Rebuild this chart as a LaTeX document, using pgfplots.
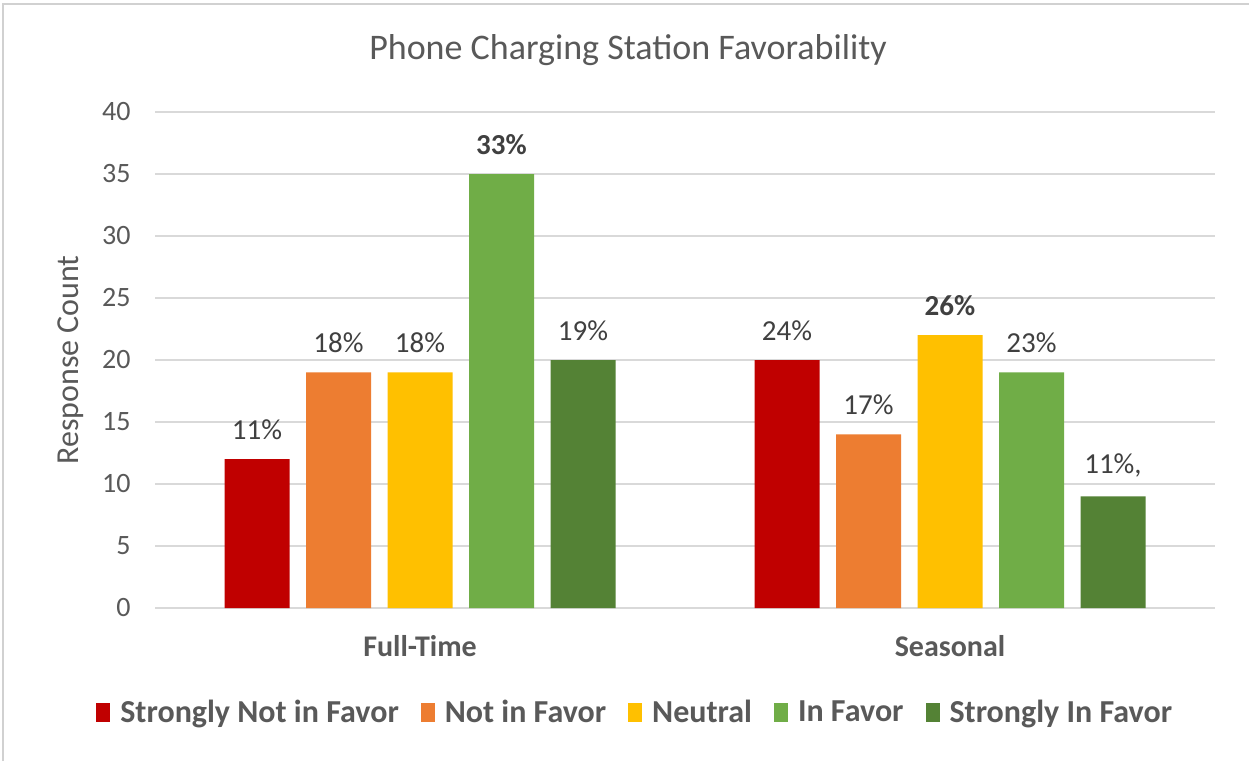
\documentclass[border=0pt]{standalone}
\usepackage{pgfplots}
\pgfplotsset{compat=1.18}
\usepackage{fontspec}
\setmainfont{Carlito}

\definecolor{cRed}{HTML}{C00000}
\definecolor{cOrange}{HTML}{ED7D31}
\definecolor{cYellow}{HTML}{FFC000}
\definecolor{cGreen}{HTML}{70AD47}
\definecolor{cDark}{HTML}{548235}
\definecolor{txtgray}{HTML}{595959}
\definecolor{lblgray}{HTML}{404040}
\definecolor{gridgray}{HTML}{D9D9D9}

\pgfplotsset{
  sq legend/.style={legend image code/.code={\fill[##1] (0pt,-9.5pt) rectangle (14pt,9.5pt);}},
}

\begin{document}
\begin{tikzpicture}
\useasboundingbox (0,0) rectangle (1249pt,761pt);
\fill[white] (0,0) rectangle (1249pt,761pt);
\draw[black!18, line width=1.2pt] (3pt,0) -- (3pt,757pt) -- (1249pt,757pt);
\node[text=txtgray, font=\fontsize{36}{40}\selectfont] at (628pt,711pt) {Phone Charging Station Favorability};

\begin{axis}[
    at={(155pt,153pt)}, anchor=south west,
    width=1060pt, height=496pt, scale only axis,
    ybar=16.5pt, bar width=65pt,
    xmin=-0.5, xmax=1.5, ymin=0, ymax=40,
    xtick={0,1}, xticklabels={Full-Time,Seasonal},
    ytick={0,5,...,40},
    ymajorgrids=true,
    grid style={draw=gridgray, line width=1.5pt},
    axis line style={draw=none},
    major tick length=0pt,
    /pgf/number format/assume math mode=true,
    yticklabel style={font=\fontsize{28}{32}\selectfont, text=txtgray, xshift=-21pt},
    xticklabel style={font=\bfseries\fontsize{30}{34}\selectfont, text=txtgray, yshift=-24pt},
    ylabel={Response Count},
    ylabel style={font=\fontsize{32}{36}\selectfont, text=txtgray,
        at={(axis description cs:-0.080,0.5)}, anchor=center},
    nodes near coords,
    point meta=explicit symbolic,
    nodes near coords style={font=\fontsize{29}{32}\selectfont, text=lblgray, anchor=south, yshift=16pt},
    legend style={at={(axis description cs:0.453,-0.21)}, anchor=center, draw=none,
        legend columns=5, font=\bfseries\fontsize{32}{36}\selectfont, text=txtgray,
        /tikz/every odd column/.append style={column sep=8pt},
        /tikz/every even column/.append style={column sep=20pt}},
]

% Strongly Not in Favor
\addplot[fill=cRed, draw=none, sq legend] coordinates {(0,12) [11\%] (1,20) [24\%]};
\addlegendentry{Strongly Not in Favor}

% Not in Favor
\addplot[fill=cOrange, draw=none, sq legend] coordinates {(0,19) [18\%] (1,14) [17\%]};
\addlegendentry{Not in Favor}

% Neutral
\addplot[fill=cYellow, draw=none, sq legend] coordinates {(0,19) [18\%] (1,22) [\textbf{26\%}]};
\addlegendentry{Neutral}

% In Favor
\addplot[fill=cGreen, draw=none, sq legend] coordinates {(0,35) [\textbf{33\%}] (1,19) [23\%]};
\addlegendentry{In Favor}

% Strongly In Favor
\addplot[fill=cDark, draw=none, sq legend] coordinates {(0,20) [19\%] (1,9) [11\%,]};
\addlegendentry{Strongly In Favor}

\end{axis}
\end{tikzpicture}
\end{document}
